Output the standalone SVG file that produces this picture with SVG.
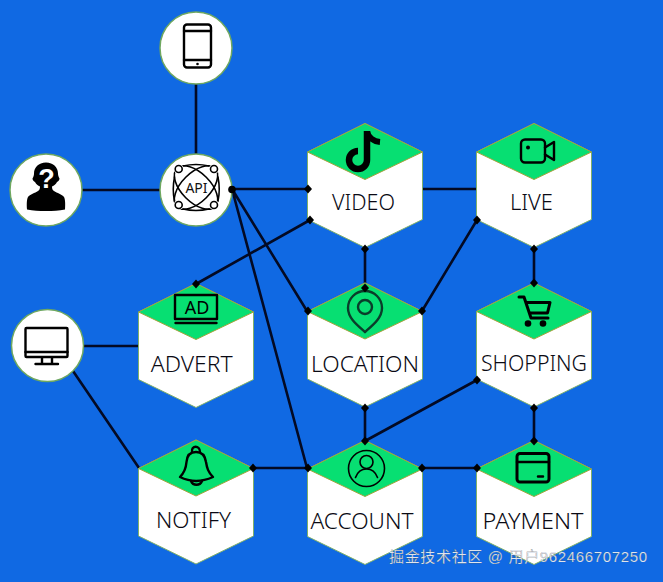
<svg xmlns="http://www.w3.org/2000/svg" width="663" height="582" viewBox="0 0 663 582">
<style>
.hex{fill:#fff;stroke:#7fb06a;stroke-width:1}
.top{fill:#07df72;stroke:#a3a33c;stroke-width:1}
.circ{fill:#fff;stroke:#6fa860;stroke-width:1.5}
.lbl{font-family:"Noto Sans","Open Sans",sans-serif;font-size:22.500px;font-weight:300;fill:#0a0a14;text-anchor:middle}
.ico{fill:none;stroke:#000;stroke-width:2.400;stroke-linecap:round;stroke-linejoin:round}
.ic2{fill:none;stroke:#000;stroke-width:1.600;stroke-linecap:round;stroke-linejoin:round}
.pin{fill:none;stroke:#0a3d2a;stroke-width:2.400}
.con{fill:none;stroke:#030a24;stroke-width:2.600}
.dot{fill:#000}
</style>
<defs>
<g id="hx">
<path class="hex" d="M-57.500 28.500L0 0L57.500 28.500V96L0 124L-57.500 96Z"/>
<path class="top" d="M-57.500 28.500L0 0L57.500 28.500L0 56Z"/>
</g>
<path id="d" class="dot" d="M-4 0L0-4.500L4 0L0 4.500Z"/>
</defs>
<rect width="663" height="582" fill="#1069e3"/>
<g id="connectors">
<path class="con" d="M196 84V155M82 190H160M232 189H307M232 189L307 311M232 189L307 468M310 220L196 284M365 249V288M422 311L477 220M422 189H477M534 249V283M534 408V441M365 408V441M365 441L477 380M422 468H477M253 468H307M84 346H139M73 371L139 468"/>
</g>
<g id="node-phone">
<circle class="circ" cx="196" cy="48" r="36"/>
<rect class="ico" x="184" y="24.500" width="27" height="43" rx="3"/>
<path class="ico" d="M184 31H211M184 60H211"/>
<circle class="dot" cx="197.500" cy="64" r="1.300"/>
</g>
<g id="node-user">
<circle class="circ" cx="46" cy="190" r="36"/>
<path fill="#000" d="M46 162.500c-7.500 0-12 5-12 11 0 2-.5 3-1.500 5 0 2 1.500 3 2.500 3.500 1 2 3 3.500 5 4.500 0 2-.5 3.500-2 4.500-3 2-8 3.500-10 6-1 1.500-1.500 6-1 12.500 6 1.500 12 1.500 19 1.500s13 0 19-1.500c.5-6.500 0-11-1-12.500-2-2.500-7-4-10-6-1.500-1-2-2.500-2-4.500 2-1 4-2.500 5-4.500 1-.5 2.500-1.500 2.500-3.500-1-2-1.500-3-1.500-5 0-6-4.500-11-12-11Z"/>
<text x="46.500" y="188" font-family="'Liberation Sans',sans-serif" font-size="27" font-weight="700" text-anchor="middle" fill="#fff">?</text>
</g>
<g id="node-api">
<circle class="circ" cx="196" cy="190" r="36"/>
<path class="ic2" d="M183 166Q196 163 209 166M174.500 177Q172 190 174.500 201M218 177Q220.500 190 218 201M183 209Q196 212 209 209"/>
<ellipse class="ic2" cx="196" cy="187.500" rx="27" ry="14.500" transform="rotate(45 196 187.500)"/>
<ellipse class="ic2" cx="196" cy="187.500" rx="27" ry="14.500" transform="rotate(-45 196 187.500)"/>
<circle cx="178.700" cy="169" r="5" fill="#fff"/><circle cx="214" cy="169" r="5" fill="#fff"/><circle cx="178.700" cy="205" r="5" fill="#fff"/><circle cx="214" cy="205" r="5" fill="#fff"/>
<circle class="ic2" cx="178.700" cy="169" r="3.500"/><circle class="ic2" cx="214" cy="169" r="3.500"/><circle class="ic2" cx="178.700" cy="205" r="3.500"/><circle class="ic2" cx="214" cy="205" r="3.500"/>
<text x="196.500" y="192.500" font-family="'Noto Sans',sans-serif" font-size="14" text-anchor="middle" fill="#111">API</text>
</g>
<g id="node-monitor">
<circle class="circ" cx="47.500" cy="345.500" r="36"/>
<rect class="ico" x="25.500" y="328" width="42" height="29" rx="1"/>
<path class="ico" d="M25.500 352H67.500M42 358V363M52 358V363M35.500 364H58"/>
</g>
<g id="node-video" transform="translate(365 123.500)">
<use href="#hx"/>
<text class="lbl" x="-1.500" y="86.500" textLength="63" lengthAdjust="spacingAndGlyphs">VIDEO</text>
<path fill="none" stroke="#000" stroke-width="6.500" d="M2 7.500V36.500A9 9 0 1 1 -7 27.500"/>
<path fill="none" stroke="#000" stroke-width="6" d="M2 8C3 14 9 18 15 18.500"/>
</g>
<g id="node-live" transform="translate(534 123.500)">
<use href="#hx"/>
<text class="lbl" x="-2.500" y="86.500" textLength="43" lengthAdjust="spacingAndGlyphs">LIVE</text>
<rect class="ico" x="-13" y="16" width="24" height="23" rx="4"/>
<path class="ico" d="M11 24L20 18.500V36.500L11 31"/>
<circle class="dot" cx="-6" cy="24" r="2"/>
</g>
<g id="node-advert" transform="translate(196 283.500)">
<use href="#hx"/>
<text class="lbl" x="-4.300" y="88.500" textLength="82" lengthAdjust="spacingAndGlyphs">ADVERT</text>
<rect class="ico" x="-21" y="11.500" width="42" height="24"/>
<path class="ico" d="M-20.500 39.500H20.500"/>
<text x="1" y="30.500" font-family="'Noto Sans',sans-serif" font-size="18" text-anchor="middle" fill="#000">AD</text>
</g>
<g id="node-location" transform="translate(365 283)">
<use href="#hx"/>
<text class="lbl" x="0" y="89" textLength="108" lengthAdjust="spacingAndGlyphs">LOCATION</text>
<path class="pin" d="M0 49C-8 42-17 35-17 25A17 17 0 0 1 17 25C17 35 8 42 0 49Z"/>
<circle class="pin" cx="0" cy="24" r="7"/>
</g>
<g id="node-shopping" transform="translate(534 283)">
<use href="#hx"/>
<text class="lbl" x="0" y="88" textLength="106" lengthAdjust="spacingAndGlyphs">SHOPPING</text>
<path fill="none" stroke="#000" stroke-width="3" stroke-linejoin="round" stroke-linecap="round" d="M-15 14H-10L-3 35H14M-7 19.500H16L13.500 30H-4"/>
<circle class="dot" cx="-6" cy="40.500" r="3.300"/>
<circle class="dot" cx="9" cy="40.500" r="3.300"/>
</g>
<g id="node-notify" transform="translate(196 440)">
<use href="#hx"/>
<text class="lbl" x="-2.500" y="88" textLength="75" lengthAdjust="spacingAndGlyphs">NOTIFY</text>
<path class="ico" d="M-16 37C-11 32-10 28-9.500 22C-9 15-5 12 0 12C5 12 9 15 10 22C11 28 12 32 17 37C6 42 -6 42 -16 37Z"/>
<path class="ico" d="M-4 12C-5 5 4 5 4 12M-5 41C-3 46 4 46 6 41"/>
</g>
<g id="node-account" transform="translate(365 440.500)">
<use href="#hx"/>
<text class="lbl" x="-3" y="88.500" textLength="103" lengthAdjust="spacingAndGlyphs">ACCOUNT</text>
<circle class="ic2" cx="1.500" cy="28" r="18"/>
<circle class="ic2" cx="1.500" cy="21.500" r="6.500"/>
<path class="ic2" d="M-9.500 37C-7 30 -3 28.500 1.500 28.500C6 28.500 10 30 12.500 37"/>
</g>
<g id="node-payment" transform="translate(534 440.500)">
<use href="#hx"/>
<text class="lbl" x="-1" y="88.500" textLength="101" lengthAdjust="spacingAndGlyphs">PAYMENT</text>
<rect class="ico" style="stroke-width:3" x="-17" y="13" width="32" height="28.500" rx="3"/>
<path class="ico" style="stroke-width:2.500" d="M-17 21.500H15M4 36H9"/>
</g>
<g id="junctions">
<circle class="dot" cx="232" cy="189.500" r="3.800"/>
<use href="#d" x="308" y="189"/><use href="#d" x="310" y="220"/><use href="#d" x="365" y="249"/><use href="#d" x="365" y="288"/>
<use href="#d" x="422" y="311"/><use href="#d" x="477" y="220"/><use href="#d" x="534" y="249"/><use href="#d" x="534" y="283"/>
<use href="#d" x="308" y="311"/><use href="#d" x="196" y="284"/><use href="#d" x="365" y="408"/><use href="#d" x="365" y="441"/>
<use href="#d" x="477" y="380"/><use href="#d" x="534" y="408"/><use href="#d" x="534" y="441"/><use href="#d" x="308" y="468"/>
<use href="#d" x="422" y="468"/><use href="#d" x="477" y="468"/><use href="#d" x="253" y="468"/>
</g>
<text x="389" y="562" font-family="'Liberation Sans','Noto Sans CJK SC',sans-serif" font-size="15" fill="#dfe5ee" stroke="#555" stroke-width="0.200" textLength="258">掘金技术社区 @ 用户962466707250</text>
</svg>
